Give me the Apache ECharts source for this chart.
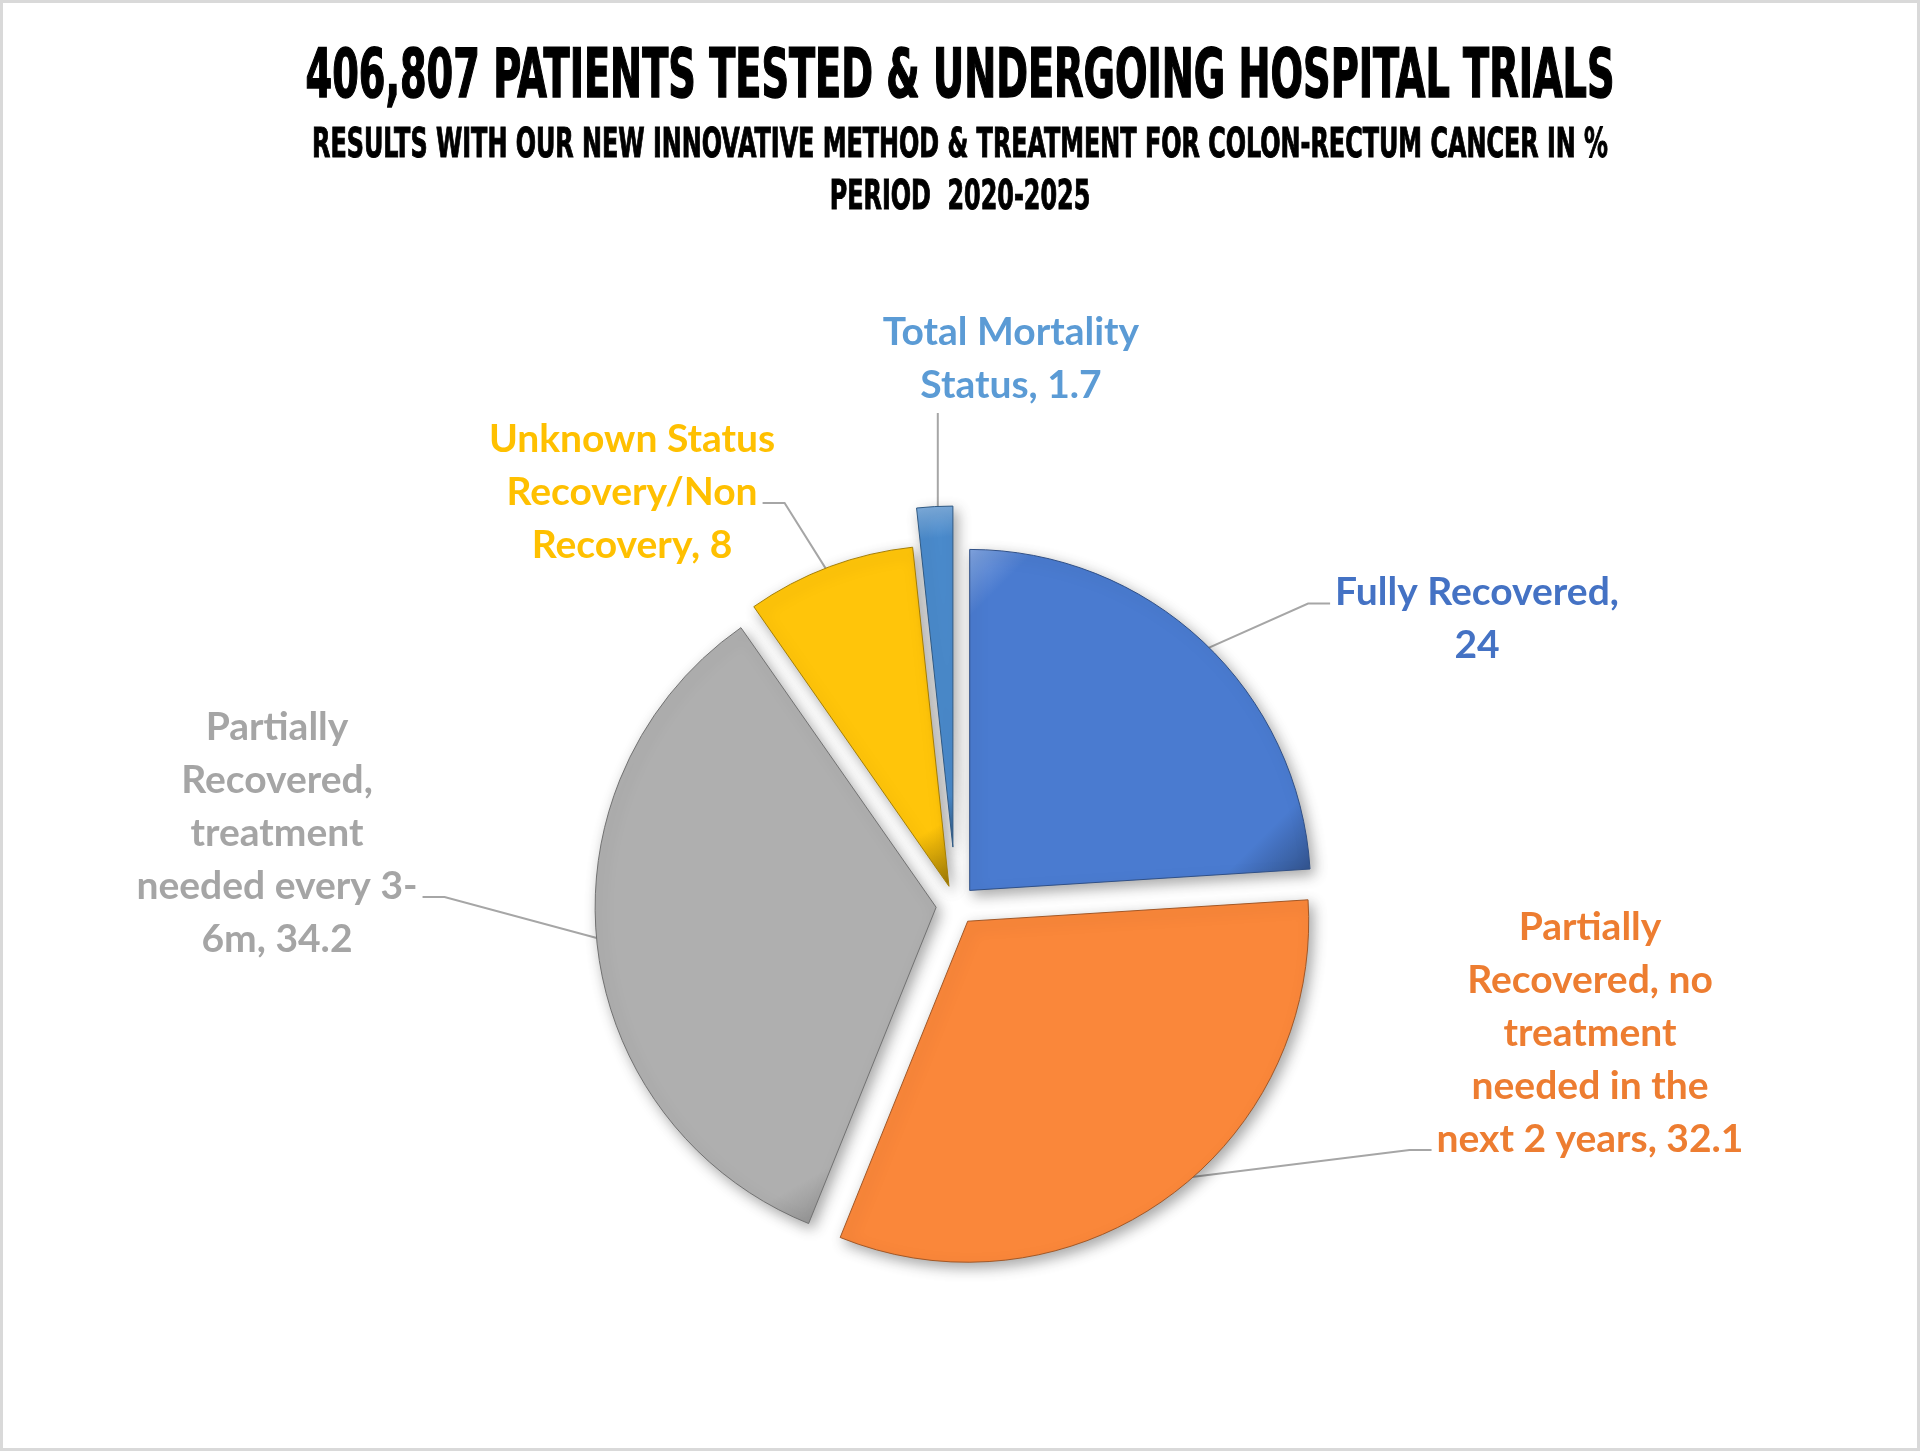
<!DOCTYPE html>
<html>
<head>
<meta charset="utf-8">
<script src="https://cdn.jsdelivr.net/npm/echarts@6/dist/echarts.min.js"></script>
<style>
  html, body { margin: 0; padding: 0; background: #ffffff; }
  #main { width: 1920px; height: 1451px; }
</style>
</head>
<body>
<div id="main"></div>
<script>
// data
const categories = [
  'Fully Recovered',
  'Partially Recovered, no treatment needed in the next 2 years',
  'Partially Recovered, treatment needed every 3-6m',
  'Unknown Status Recovery/Non Recovery',
  'Total Mortality Status'
]
const values = [24, 32.1, 34.2, 8, 1.7]
// how the data labels wrap in the picture
const labelLines = [
  ['Fully Recovered,', '{v}'],
  ['Partially', 'Recovered, no', 'treatment', 'needed in the', 'next 2 years, {v}'],
  ['Partially', 'Recovered,', 'treatment', 'needed every 3-', '6m, {v}'],
  ['Unknown Status', 'Recovery/Non', 'Recovery, {v}'],
  ['Total Mortality', 'Status, {v}']
]
const titleText = '406,807 PATIENTS TESTED & UNDERGOING HOSPITAL TRIALS'
const subtitleLines = [
  'RESULTS WITH OUR NEW INNOVATIVE METHOD & TREATMENT FOR COLON-RECTUM CANCER IN %',
  'PERIOD  2020-2025'
]

/** slice fill and label colours */
const sliceColors = ['#4a7bd0', '#fa873a', '#afafaf', '#ffc50a', '#4a8acb']
const labelColors = ['#4472c4', '#ed7d31', '#a5a5a5', '#ffc000', '#5b9bd5']

/** where the labels sit and which side the leader line joins (layout only) */
const labelAt = [
  [1477, 619],
  [1590, 1033],
  [277, 833],
  [632, 492],
  [1011, 359]
]
const labelHook = [
  {side: 'left', line: 0},
  {side: 'left', line: 4},
  {side: 'right', line: 3},
  {side: 'right', line: 1},
  {side: 'bottom'}
]
const PIE_CENTER = [956, 905]
const PIE_R = 341
const FAR_SLICE = 4 // Total Mortality is pulled out further
const LABEL_FONT = 39
const LABEL_LH = 53

function shade(hex, amt) {
  const n = parseInt(hex.slice(1), 16)
  let r = (n >> 16) & 255, g = (n >> 8) & 255, b = n & 255
  const f = c => Math.max(0, Math.min(255, Math.round(amt > 0 ? c + (255 - c) * amt : c * (1 + amt))))
  return 'rgb(' + f(r) + ',' + f(g) + ',' + f(b) + ')'
}

//measure text widths
const ctx = document.createElement('canvas').getContext('2d')
const titleFont = 'bold 68px "DejaVu Sans Condensed", "DejaVu Sans"'
const subFont = 'bold 41px "DejaVu Sans Condensed", "DejaVu Sans"'
ctx.font = titleFont
const titleScale = 1309 / ctx.measureText(titleText).width
ctx.font = subFont
const subScale = 1296 / ctx.measureText(subtitleLines[0]).width

function labelLineText(i, k) {
  return labelLines[i][k].replace('{v}', values[i])
}
function lineWidth(i, k) {
  ctx.font = 'bold ' + LABEL_FONT + 'px Lato'
  return ctx.measureText(labelLineText(i, k)).width
}

const hidden = {color: 'rgba(0,0,0,0)', borderWidth: 0, shadowBlur: 0, shadowColor: 'rgba(0,0,0,0)'}

function sliceStyle(i) {
  return {
    color: new echarts.graphic.LinearGradient(0, 0, 1, 1, [
      {offset: 0, color: shade(sliceColors[i], 0.3)},
      {offset: 0.1, color: sliceColors[i]},
      {offset: 0.85, color: sliceColors[i]},
      {offset: 1, color: shade(sliceColors[i], -0.4)},
    ]),
    borderColor: shade(sliceColors[i], -0.35),
    borderWidth: 1,
    shadowBlur: 14,
    shadowColor: 'rgba(0,0,0,0.35)',
    shadowOffsetX: 4,
    shadowOffsetY: 5,
  }
}

/** visible slices: keep = which ones are drawn */
function slices(keep, offset) {
  return {
    type: 'pie',
    center: PIE_CENTER,
    radius: PIE_R,
    startAngle: 90,
    clockwise: true,
    selectedMode: 'multiple',
    selectedOffset: offset,
    emphasis: {disabled: true},
    label: {show: false},
    labelLine: {show: false},
    z: 3,
    data: categories.map((name, i) => ({
      name: name,
      value: values[i],
      selected: true,
      itemStyle: keep(i) ? sliceStyle(i) : hidden,
    })),
  }
}

/** label placement + leader line from the slice rim to the label */
function placeLabel(p) {
  const i = p.dataIndex
  const [cx, cy] = labelAt[i]
  const h = labelLines[i].length * LABEL_LH
  const top = cy - h / 2
  const rim = p.labelLinePoints ? p.labelLinePoints[0] : null
  const out = {x: cx, y: cy, align: 'center', verticalAlign: 'middle'}
  if (!rim) return out
  const hook = labelHook[i]
  if (hook.side === 'bottom') {
    const y = top + h + 1
    out.labelLinePoints = [[rim[0], rim[1]], [rim[0], y], [rim[0], y]]
  } else {
    const dir = hook.side === 'left' ? -1 : 1
    const y = top + LABEL_LH * (hook.line + 0.5) + 11
    const ex = cx + dir * (lineWidth(i, hook.line) / 2 + 5)
    out.labelLinePoints = [[rim[0], rim[1]], [ex + dir * 22, y], [ex, y]]
  }
  return out
}

const chart = echarts.init(document.getElementById('main'))
chart.setOption({
  backgroundColor: '#ffffff',
  animation: false,
  graphic: [
    {
      type: 'rect',
      shape: {x: 1.5, y: 1.5, width: 1917, height: 1448},
      style: {fill: 'none', stroke: '#d9d9d9', lineWidth: 3},
      silent: true,
    },
    {
      type: 'text',
      x: 960, y: 79,
      scaleX: titleScale,
      style: {text: titleText, font: titleFont, fill: '#000000', stroke: '#000000', lineWidth: 1.5,
        align: 'center', verticalAlign: 'middle'},
    },
    ...subtitleLines.map((t, i) => ({
      type: 'text',
      x: 960, y: 146 + i * 52,
      scaleX: subScale,
      style: {text: t, font: subFont, fill: '#000000', stroke: '#000000', lineWidth: 1,
        align: 'center', verticalAlign: 'middle'},
    })),
  ],
  series: [
    /** labels and leader lines, drawn under the slices */
    {
      type: 'pie',
      center: PIE_CENTER,
      radius: PIE_R,
      startAngle: 90,
      clockwise: true,
      silent: true,
      avoidLabelOverlap: false,
      emphasis: {disabled: true},
      z: 1,
      itemStyle: hidden,
      label: {
        show: true,
        fontFamily: 'Lato',
        fontWeight: 'bold',
        fontSize: LABEL_FONT,
        lineHeight: LABEL_LH,
        align: 'center',
        formatter: p => labelLines[p.dataIndex].map((t, k) => labelLineText(p.dataIndex, k)).join('\n'),
      },
      labelLine: {
        show: true,
        length: 20,
        length2: 20,
        lineStyle: {color: '#a6a6a6', width: 2},
      },
      labelLayout: placeLabel,
      data: categories.map((name, i) => ({name: name, value: values[i], label: {color: labelColors[i]}})),
    },
    slices(i => i !== FAR_SLICE, 20),
    slices(i => i === FAR_SLICE, 58),
  ],
})
</script>
</body>
</html>
